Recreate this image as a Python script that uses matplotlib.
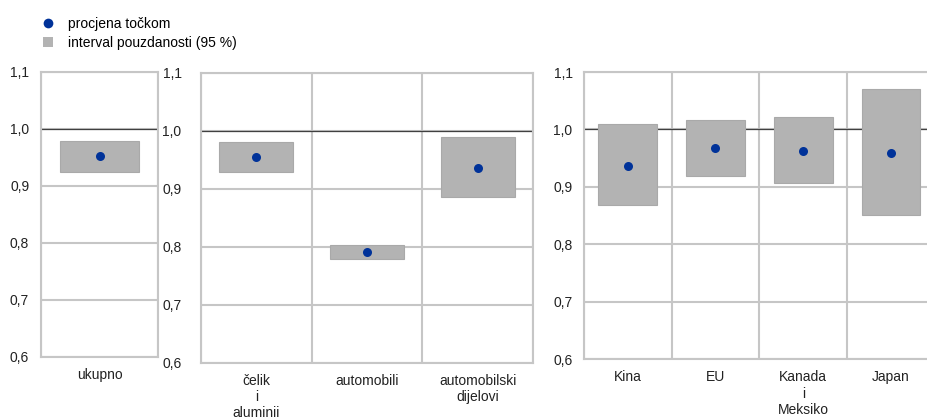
import matplotlib
matplotlib.use("Agg")
import matplotlib.pyplot as plt
from matplotlib.lines import Line2D
import numpy as np

plt.rcParams['font.family'] = ['Liberation Sans', 'DejaVu Sans']
plt.rcParams['font.size'] = 10

# Point estimates and 95 % confidence bounds per panel
cats_total = ["ukupno"]
est_total = [0.953]
low_total = [0.925]
high_total = [0.979]

cats_product = ["čelik\ni\naluminij", "automobili", "automobilski\ndijelovi"]
est_product = [0.954, 0.790, 0.936]
low_product = [0.929, 0.779, 0.885]
high_product = [0.980, 0.803, 0.989]

cats_country = ["Kina", "EU", "Kanada\ni\nMeksiko", "Japan"]
est_country = [0.937, 0.967, 0.963, 0.959]
low_country = [0.868, 0.919, 0.906, 0.851]
high_country = [1.010, 1.016, 1.021, 1.070]

yticks = [0.6, 0.7, 0.8, 0.9, 1.0, 1.1]
ytick_labels = ["0,6", "0,7", "0,8", "0,9", "1,0", "1,1"]

GRID = "#c6c6c6"
BOX = "#b3b3b3"
BOX_EDGE = "#a9a9a9"
DOT = "#003299"
REF = "#404040"

fig = plt.figure(figsize=(9.28, 4.17), dpi=100)

panels = [
    ([0.0442, 0.1439, 0.1261, 0.6835], cats_total, est_total, low_total, high_total, 8.5),
    ([0.2166, 0.1302, 0.3578, 0.6955], cats_product, est_product, low_product, high_product, 14),
    ([0.6290, 0.1384, 0.3785, 0.6889], cats_country, est_country, low_country, high_country, 8),
]

for rect, cats, est, low, high, ypad in panels:
    ax = fig.add_axes(rect)
    n = len(cats)
    x = np.arange(n)
    heights = np.array(high) - np.array(low)
    ax.bar(x, heights, bottom=low, width=0.67, color=BOX, edgecolor=BOX_EDGE,
           linewidth=0.8, zorder=3)
    ax.plot(x, est, linestyle="none", marker="o", markersize=6.5, color=DOT,
            markeredgewidth=0, zorder=4)
    ax.axhline(1.0, color=REF, linewidth=0.9, zorder=2)

    ax.set_xlim(-0.5, n - 0.5)
    ax.set_ylim(0.6, 1.1)
    ax.set_yticks(yticks)
    ax.set_yticklabels(ytick_labels)
    ax.set_xticks(x)
    ax.set_xticklabels(cats, linespacing=1.2)
    ax.set_xticks(np.arange(n + 1) - 0.5, minor=True)

    ax.grid(axis="y", which="major", color=GRID, linewidth=1.5, zorder=1)
    ax.grid(axis="x", which="minor", color=GRID, linewidth=1.5, zorder=1)
    ax.grid(axis="x", which="major", visible=False)
    ax.set_axisbelow(True)

    ax.tick_params(axis="both", which="both", length=0, colors="#222222")
    ax.tick_params(axis="y", pad=ypad)
    ax.tick_params(axis="x", pad=8)
    for sp in ax.spines.values():
        sp.set_color(GRID)
        sp.set_linewidth(1.5)

handles = [
    Line2D([], [], linestyle="none", marker="o", markersize=7, color=DOT,
           markeredgewidth=0, label="procjena točkom"),
    Line2D([], [], linestyle="none", marker="s", markersize=7.5, color=BOX,
           markeredgewidth=0, label="interval pouzdanosti (95 %)"),
]
fig.legend(handles=handles, loc="upper left", bbox_to_anchor=(0.032, 0.986),
           frameon=False, handlelength=1.0, handletextpad=0.95,
           labelspacing=0.35, borderaxespad=0.4, fontsize=10)

fig.savefig("out.png", dpi=100)
